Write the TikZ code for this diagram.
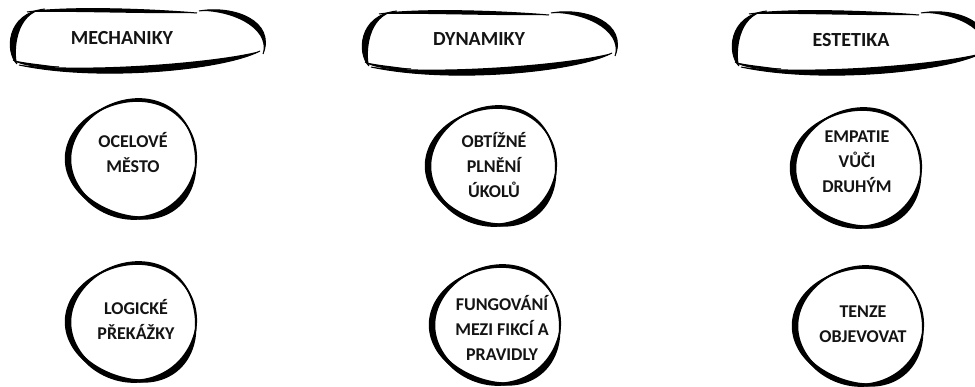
\documentclass[tikz,border=0pt]{standalone}
\usepackage{fontspec}
\setmainfont{Carlito}
\usetikzlibrary{calc}
\tikzset{
  thinline/.style={line width=1pt},
  headtext/.style={font=\fontsize{20}{24}\selectfont\bfseries, text=black!92, anchor=base, inner sep=0pt},
  itemtext/.style={font=\fontsize{18}{25}\selectfont\bfseries, align=center, inner sep=0pt, text=black!92}
}
% tapering brush stroke between two cubic curves
\newcommand\lens[5]{%
  \fill (#1) .. controls (#2) and (#3) .. (#4) .. controls ($(#3)+(#5)-(0,0)$) and ($(#2)+(#5)-(0,0)$) .. (#1) -- cycle;
  \draw[thinline] (#1) .. controls (#2) and (#3) .. (#4);}
% tapering brush stroke along an egg-like arc: rx, ry, start angle, end angle, max width
\newcommand\arcstroke[5]{%
  \def\srx{#1}\def\sry{#2}\def\sta{#3}\def\stb{#4}\def\stw{#5}%
  \def\swf{(1.0+\stw*sin((\t-(\sta))/((\stb)-(\sta))*180))}%
  \def\sang{((\sta)+(\stb)-\t)}%
  \fill plot[domain=#3:#4,samples=40,variable=\t]
    ({(\srx+0.5*\swf)*cos(\t)+6*sin(\t)*sin(\t)},{-(\sry+0.5*\swf)*sin(\t)})
    -- plot[domain=#3:#4,samples=40,variable=\t]
    ({(\srx-0.5*\swf)*cos(\sang)+6*sin(\sang)*sin(\sang)},{-(\sry-0.5*\swf)*sin(\sang)}) -- cycle;}
\newcommand\headerbox[2]{%
  \begin{scope}[shift={(#1,#2)}]
    \lens{8,57}{-4,45}{-3,6}{36,2}{9,0}
    \lens{18,5}{60,-1}{140,2}{188,6}{0,5}
    \lens{190,4}{225,-2}{267,14}{254,47}{-6,5}
    \lens{251,44}{215,63}{90,75}{10,58}{0,-9}
    \lens{4,53}{15,59}{30,60}{50,60}{0,-3}
  \end{scope}}
\newcommand\blob[2]{%
  \begin{scope}[shift={(#1,#2)}]
    \arcstroke{64}{59}{118}{238}{5.5}
    \arcstroke{64}{59}{25}{135}{2.8}
    \arcstroke{64}{59}{-15}{40}{1.4}
    \arcstroke{64}{59}{-100}{-5}{6}
    \arcstroke{64}{59}{-158}{-75}{4.5}
  \end{scope}}
\begin{document}
\begin{tikzpicture}[x=1pt,y=-1pt]
\useasboundingbox (0,0) rectangle (975,387);
\clip (0,0) rectangle (975,387);
\fill[white] (0,0) rectangle (975,387);

% headers
\headerbox{9}{7}
\headerbox{361}{9}
\headerbox{731}{9}
\node[headtext] (mech) at (122,45) {MECHANIKY};
\node[headtext] (dyn) at (479,45.5) {DYNAMIKY};
\node[headtext] (est) at (851,46.5) {ESTETIKA};

% circles
\blob{132}{159}
\blob{492}{166}
\blob{857}{168}
\blob{132}{322}
\blob{496}{325}
\blob{859}{326}

\node[itemtext] (m1) at (133,153) {OCELOVÉ\\MĚSTO};
\node[itemtext] (d1) at (494,165) {OBTÍŽNÉ\\PLNĚNÍ\\ÚKOLŮ};
\node[itemtext] (e1) at (857,161.5) {EMPATIE\\VŮČI\\DRUHÝM};
\node[itemtext] (m2) at (136,319.5) {LOGICKÉ\\PŘEKÁŽKY};
\node[itemtext] (d2) at (502,328) {FUNGOVÁNÍ\\MEZI FIKCÍ A\\PRAVIDLY};
\node[itemtext] (e2) at (863,324) {TENZE\\OBJEVOVAT};
\end{tikzpicture}
\end{document}
